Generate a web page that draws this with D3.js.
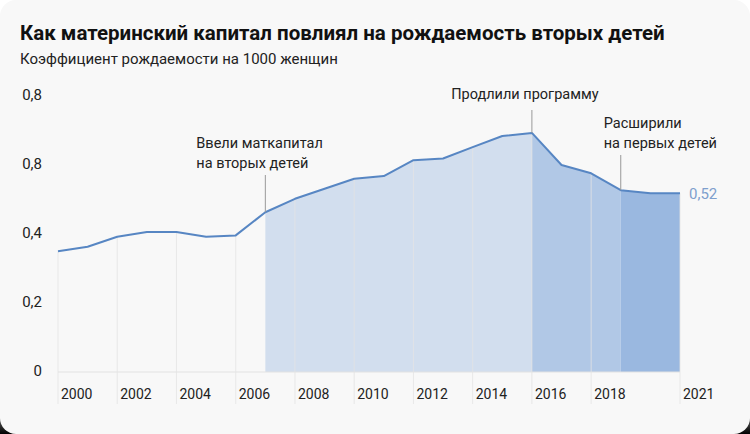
<!DOCTYPE html>
<html>
<head>
<meta charset="utf-8">
<script src="https://cdn.jsdelivr.net/npm/d3@7"></script>
<style>
  html, body { margin: 0; padding: 0; }
  body { width: 750px; height: 434px; overflow: hidden;
    background: linear-gradient(to bottom, #ffffff 0%, #ffffff 90%, #000000 100%); }
  svg { display: block; }
</style>
</head>
<body>
<svg id="chart" width="750" height="434"></svg>
<script>
const years = [2000,2001,2002,2003,2004,2005,2006,2007,2008,2009,2010,2011,2012,2013,2014,2015,2016,2017,2018,2019,2020,2021];
const values = [0.35,0.363,0.392,0.406,0.406,0.392,0.396,0.463,0.502,0.531,0.56,0.568,0.614,0.619,0.652,0.684,0.693,0.6,0.576,0.527,0.518,0.518];
const xTickYears = [2000,2002,2004,2006,2008,2010,2012,2014,2016,2018,2021];
const yTickValues = [0,0.2,0.4,0.6,0.8];
const yTickLabels = ["0","0,2","0,4","0,8","0,8"];
const periods = [
  {from: 2007, to: 2016, color: "#d2deee"},
  {from: 2016, to: 2019, color: "#b1c8e6"},
  {from: 2019, to: 2021, color: "#9ab8e0"}
];
const annotations = [
  {year: 2007, lines: ["Ввели маткапитал", "на вторых детей"], anchor: "start", dx: -69, top: 175, base: 168},
  {year: 2016, lines: ["Продлили программу"], anchor: "middle", dx: -7, top: 110, base: 99},
  {year: 2019, lines: ["Расширили", "на первых детей"], anchor: "start", dx: -17, top: 155, base: 148}
];
const titleText = "Как материнский капитал повлиял на рождаемость вторых детей";
const subtitleText = "Коэффициент рождаемости на 1000 женщин";
const lastLabel = "0,52";

const svg = d3.select("#chart");
const font = "Roboto, 'Noto Sans', sans-serif";

svg.append("rect").attr("x",0).attr("y",0).attr("width",750).attr("height",434)
  .attr("rx",16).attr("fill","#f8f8f8");

svg.append("text").attr("x",20).attr("y",40).text(titleText)
  .attr("font-family",font).attr("font-weight",700).attr("font-size",20.5).attr("fill","#111");
svg.append("text").attr("x",20).attr("y",64).text(subtitleText)
  .attr("font-family",font).attr("font-size",15).attr("fill","#222");

const x = d3.scaleLinear().domain([2000,2021]).range([58,680]);
const y = d3.scaleLinear().domain([0,0.8]).range([372,96]);
const data = years.map((yr,i)=>({year:yr, value:values[i]}));
const valAt = yr => data.find(d=>d.year===yr).value;

// shaded areas
periods.forEach(p=>{
  const seg = data.filter(d=>d.year>=p.from && d.year<=p.to);
  svg.append("path").datum(seg)
    .attr("d", d3.area().x(d=>x(d.year)).y0(y(0)).y1(d=>y(d.value)))
    .attr("fill", p.color);
});

// baseline
svg.append("line").attr("x1",x(2000)).attr("x2",x(2021)).attr("y1",y(0)).attr("y2",y(0))
  .attr("stroke","#e2e2e2").attr("stroke-width",1);

// vertical gridlines
svg.append("g").selectAll("line").data(xTickYears).join("line")
  .attr("x1",d=>x(d)).attr("x2",d=>x(d))
  .attr("y1",d=>y(valAt(d)))
  .attr("y2",404)
  .attr("stroke","#e3e3e3").attr("stroke-opacity",0.8).attr("stroke-width",1);

// line
svg.append("path").datum(data)
  .attr("d", d3.line().x(d=>x(d.year)).y(d=>y(d.value)))
  .attr("fill","none").attr("stroke","#5786c3").attr("stroke-width",2).attr("stroke-linejoin","round");

// y labels
svg.append("g").selectAll("text").data(yTickValues).join("text")
  .attr("x",42).attr("y",d=>y(d)-1.5).attr("dy","0.35em").attr("text-anchor","end")
  .text((d,i)=>yTickLabels[i])
  .attr("font-family",font).attr("font-size",15).attr("fill","#222");

// x labels
svg.append("g").selectAll("text").data(xTickYears).join("text")
  .attr("x",d=>x(d)+3).attr("y",399).text(d=>d)
  .attr("font-family",font).attr("font-size",14).attr("fill","#222");

// annotations
annotations.forEach(a=>{
  const ax = x(a.year);
  svg.append("line").attr("x1",ax).attr("x2",ax).attr("y1",a.top).attr("y2",y(valAt(a.year)))
    .attr("stroke","#999").attr("stroke-width",1);
  const n = a.lines.length;
  a.lines.forEach((t,i)=>{
    svg.append("text").attr("x", ax + a.dx).attr("y", a.base - (n-1-i)*20.5)
      .attr("text-anchor", a.anchor).text(t)
      .attr("font-family",font).attr("font-size",14.5).attr("fill","#222");
  });
});

// last value label
svg.append("text").attr("x",x(2021)+9).attr("y",y(values[values.length-1])).attr("dy","0.35em")
  .text(lastLabel).attr("font-family",font).attr("font-size",15).attr("fill","#7e9fcd");
</script>
</body>
</html>
